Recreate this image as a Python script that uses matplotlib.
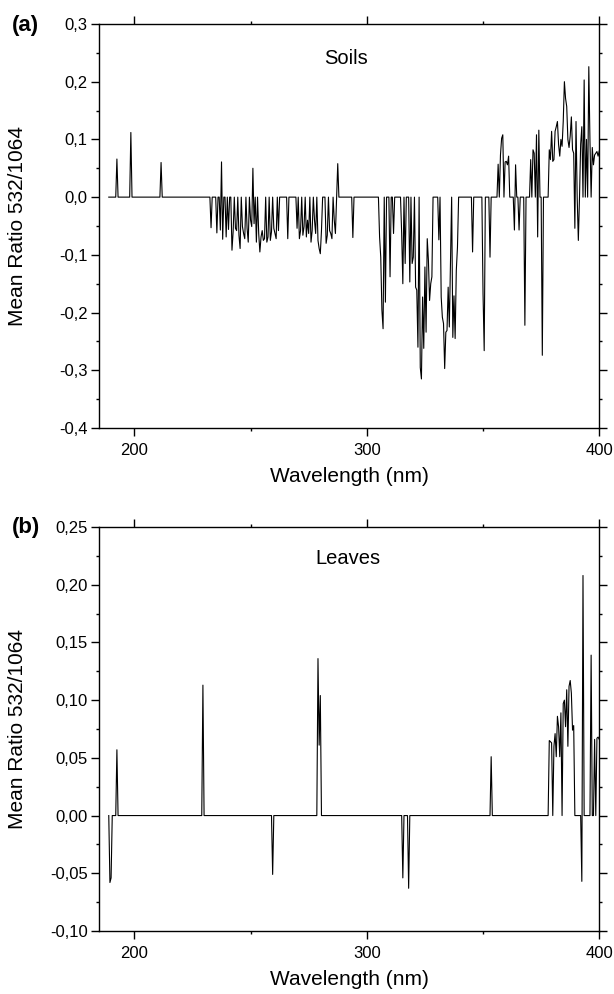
import numpy as np
import matplotlib
matplotlib.use("Agg")
import matplotlib.pyplot as plt
from matplotlib.ticker import MultipleLocator, FuncFormatter

plt.rcParams['font.family'] = ['Liberation Sans', 'DejaVu Sans']

# wavelength grid of the spectra (nm); points not listed below sit at 0
grid_start, grid_stop, grid_step = 189.0, 400.0, 0.5

# (a) soils: wavelength (nm) and mean ratio of the non-zero points
soil_wl = [192.5, 198.5, 211.5, 233.0, 235.5, 237.0, 237.5, 238.0, 239.5, 240.5,
           242.0, 242.5, 243.5, 244.0, 245.0, 245.5, 246.5, 247.0, 247.5, 248.5,
           249.0, 250.0, 250.5, 251.0, 251.5, 252.5, 253.5, 254.0, 254.5, 255.0,
           255.5, 256.0, 257.0, 257.5, 258.5, 259.0, 260.0, 260.5, 261.0, 262.0,
           266.0, 270.0, 271.0, 271.5, 272.5, 273.0, 274.0, 274.5, 275.0, 276.0,
           276.5, 277.5, 278.0, 279.0, 279.5, 280.0, 280.5, 282.5, 283.0, 284.0,
           284.5, 285.0, 286.0, 286.5, 287.5, 294.0,
           305.5, 306.0, 306.5, 307.0, 308.0, 310.0, 311.5, 315.0, 315.5, 316.5,
           318.5, 319.5, 320.0, 321.0, 321.5, 322.0, 323.0, 323.5, 324.0, 324.5,
           325.0, 325.5, 326.0, 326.5, 327.0, 327.5, 328.0, 331.0, 332.0, 332.5,
           333.0, 333.5, 334.0, 334.5, 335.0, 335.5, 336.0, 337.0, 337.5, 338.0,
           338.5, 339.0, 345.5, 350.0, 350.5, 353.0,
           356.5, 357.5, 358.0, 358.5, 359.5, 360.0, 360.5, 361.0, 363.5, 364.0,
           365.5, 368.0, 370.5, 371.5, 372.0, 373.0, 373.5, 374.0, 375.5,
           378.5, 379.0, 379.5, 380.0, 380.5, 381.0, 381.5, 382.0, 382.5, 383.0,
           383.5, 384.0, 384.5, 385.0, 385.5, 386.0, 386.5, 387.0, 387.5, 388.0,
           388.5, 389.0, 389.5, 390.0, 391.0, 392.0, 392.5, 393.5, 394.5, 395.5,
           396.0, 397.0, 397.5, 398.0, 398.5, 399.0, 399.5, 400.0]
soil_val = [0.066, 0.112, 0.060, -0.053, -0.062, -0.057, 0.061, -0.073, -0.069, -0.056,
            -0.092, -0.060, -0.054, -0.058, -0.066, -0.089, -0.051, -0.063, -0.072, -0.054,
            -0.078, -0.040, -0.051, 0.050, -0.046, -0.078, -0.063, -0.095, -0.069, -0.058,
            -0.075, -0.072, -0.078, -0.069, -0.075, -0.060, -0.054, -0.063, -0.072, -0.058,
            -0.072, -0.054, -0.072, -0.058, -0.066, -0.051, -0.069, -0.040, -0.063, -0.078,
            -0.058, -0.040, -0.063, -0.075, -0.089, -0.098, -0.058, -0.080, -0.066, -0.058,
            -0.063, -0.072, -0.040, -0.063, 0.058, -0.070,
            -0.069, -0.104, -0.196, -0.228, -0.182, -0.138, -0.063, -0.063, -0.150, -0.115,
            -0.147, -0.115, -0.104, -0.156, -0.161, -0.260, -0.295, -0.315, -0.173, -0.262,
            -0.121, -0.234, -0.072, -0.109, -0.179, -0.150, -0.138, -0.074, -0.173, -0.208,
            -0.219, -0.297, -0.234, -0.231, -0.156, -0.225, -0.115, -0.243, -0.171, -0.245,
            -0.127, -0.087, -0.095, -0.167, -0.266, -0.104,
            0.057, 0.073, 0.102, 0.108, 0.061, 0.062, 0.056, 0.071, -0.057, 0.056,
            -0.057, -0.222, 0.065, 0.082, 0.076, 0.108, -0.069, 0.116, -0.274,
            0.082, 0.065, 0.114, 0.062, 0.065, 0.114, 0.122, 0.131, 0.091, 0.071,
            0.100, 0.088, 0.131, 0.200, 0.171, 0.157, 0.100, 0.086, 0.106, 0.139,
            0.082, 0.076, -0.054, 0.131, -0.075, 0.092, 0.122, 0.203, 0.100, 0.226,
            0.097, 0.086, 0.056, 0.073, 0.076, 0.079, 0.071, 0.080]

# (b) leaves
leaf_wl = [189.5, 190.0, 192.5, 229.5, 259.5, 279.0, 279.5, 280.0, 315.5, 318.0,
           353.5, 378.5, 379.0, 379.5, 380.5, 381.0, 381.5, 382.0, 382.5, 383.0,
           383.5, 384.5, 385.0, 385.5, 386.0, 386.5, 387.0, 387.5, 388.0, 388.5,
           389.0, 392.5, 393.0, 396.5, 398.0, 399.0, 399.5, 400.0]
leaf_val = [-0.058, -0.054, 0.057, 0.113, -0.051, 0.136, 0.061, 0.104, -0.054, -0.063,
            0.051, 0.065, 0.064, 0.063, 0.060, 0.071, 0.051, 0.086, 0.077, 0.051,
            0.089, 0.097, 0.100, 0.077, 0.109, 0.060, 0.112, 0.117, 0.106, 0.074,
            0.078, -0.057, 0.208, 0.139, 0.066, 0.067, 0.068, 0.066]

panel_titles = ['Soils', 'Leaves']
panel_tags = ['(a)', '(b)']


def spectrum(wl, val):
    x = np.arange(grid_start, grid_stop + grid_step / 2, grid_step)
    y = np.zeros_like(x)
    for w, v in zip(wl, val):
        y[int(round((w - grid_start) / grid_step))] = v
    return x, y


def comma(v, pos, nd):
    return f"{v:.{nd}f}".replace('.', ',')


fig = plt.figure(figsize=(6.14, 9.94), dpi=100)
ax_a = fig.add_axes([0.162, 0.5694, 0.814, 0.4065])
ax_b = fig.add_axes([0.162, 0.0634, 0.814, 0.4064])

setups = [
    (ax_a, soil_wl, soil_val, (-0.4, 0.3), 0.1, 0.05, 1, (291, 0.241)),
    (ax_b, leaf_wl, leaf_val, (-0.10, 0.25), 0.05, 0.025, 2, (292, 0.223)),
]

for i, (ax, wl, val, ylim, major, minor, nd, txt) in enumerate(setups):
    x, y = spectrum(wl, val)
    ax.plot(x, y, color='black', lw=0.8)
    ax.set_xlim(185, 400)
    ax.set_ylim(*ylim)
    ax.xaxis.set_major_locator(MultipleLocator(100))
    ax.xaxis.set_minor_locator(MultipleLocator(50))
    ax.yaxis.set_major_locator(MultipleLocator(major))
    ax.yaxis.set_minor_locator(MultipleLocator(minor))
    ax.yaxis.set_major_formatter(FuncFormatter(lambda v, p, nd=nd: comma(v, p, nd)))
    ax.tick_params(which='both', direction='out', top=True, right=True,
                   width=1.0, labelsize=12)
    ax.tick_params(which='major', length=5.5)
    ax.tick_params(which='minor', length=2.5)
    ax.tick_params(axis='x', pad=5)
    ax.tick_params(axis='y', pad=3)
    for s in ax.spines.values():
        s.set_linewidth(1.0)
    ax.set_xlabel('Wavelength (nm)', fontsize=15, labelpad=7)
    ax.set_ylabel('Mean Ratio 532/1064', fontsize=15)
    ax.yaxis.set_label_coords(-0.145, 0.5)
    ax.text(txt[0], txt[1], panel_titles[i], fontsize=14.5, ha='center', va='center')

fig.text(0.02, 0.974, panel_tags[0], fontsize=16, fontweight='bold', va='center')
fig.text(0.02, 0.469, panel_tags[1], fontsize=16, fontweight='bold', va='center')

fig.savefig('out.png', dpi=100)
